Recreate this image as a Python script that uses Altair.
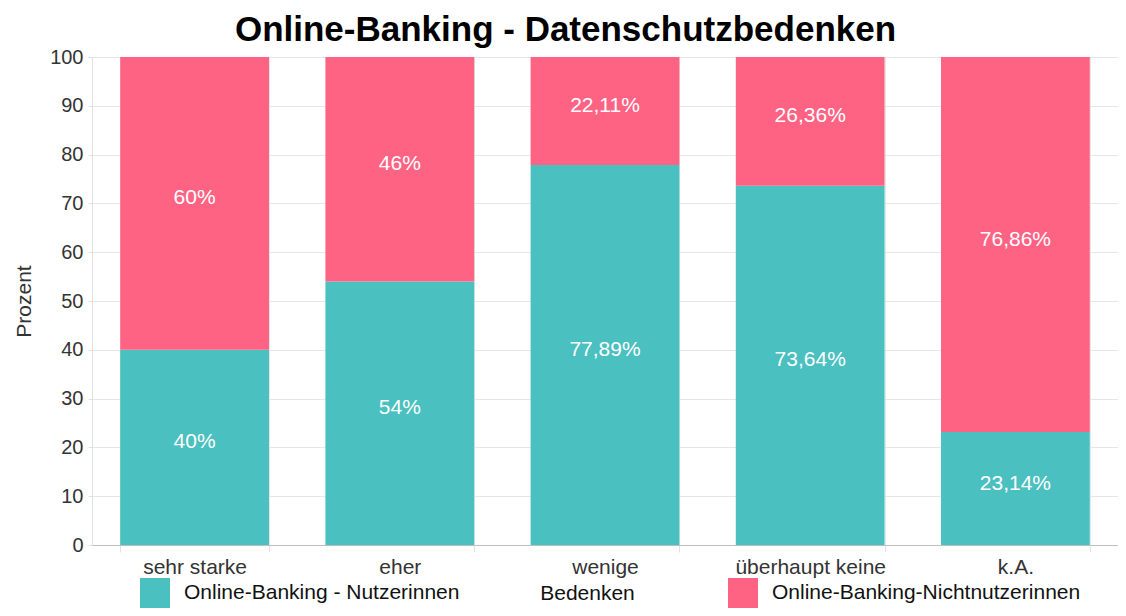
import altair as alt
import pandas as pd

categories = ["sehr starke", "eher", "wenige", "überhaupt keine", "k.A."]
series = ["Online-Banking - Nutzerinnen", "Online-Banking-Nichtnutzerinnen"]
nutzer = [40, 54, 77.89, 73.64, 23.14]
nichtnutzer = [60, 46, 22.11, 26.36, 76.86]
colors = ["#4BC0C0", "#FF6384"]
y_ticks = [0, 10, 20, 30, 40, 50, 60, 70, 80, 90, 100]


def fmt(v):
    return f"{v:g}".replace(".", ",") + "%"


rows = []
for i, c in enumerate(categories):
    rows.append({"cat": c, "series": series[0], "value": nutzer[i], "ord": 0, "label": fmt(nutzer[i])})
    rows.append({"cat": c, "series": series[1], "value": nichtnutzer[i], "ord": 1, "label": fmt(nichtnutzer[i])})
df = pd.DataFrame(rows)

FONT = "Liberation Sans"
PLOT_H = 488

x_enc = alt.X(
    "cat:N",
    sort=categories,
    scale=alt.Scale(paddingInner=0.275, paddingOuter=0.1375),
    axis=alt.Axis(
        title="Bedenken",
        labelAngle=0,
        tickBand="extent",
        labelFontSize=21,
        labelColor="#333333",
        labelFont=FONT,
        labelPadding=4,
        tickSize=7,
        tickColor="#e2e2e2",
        grid=True,
        gridColor="#e6e6e6",
        domainColor="#bfbfbf",
        titleFont=FONT,
        titleFontSize=21,
        titleFontWeight="normal",
        titleColor="#111111",
        titleX=495,
        titleY=37,
        titleAlign="center",
        titleBaseline="top",
    ),
)

y_enc = alt.Y(
    "value:Q",
    stack="zero",
    scale=alt.Scale(domain=[0, 100], nice=False),
    axis=alt.Axis(
        title="Prozent",
        values=y_ticks,
        labelFontSize=20,
        labelColor="#333333",
        labelFont=FONT,
        tickSize=4,
        labelPadding=5,
        tickColor="#e2e2e2",
        gridColor="#e6e6e6",
        domainColor="#e0e0e0",
        titleFont=FONT,
        titleFontSize=21,
        titleFontWeight="normal",
        titleColor="#333333",
        titleAngle=270,
        titleX=-68,
        titleY=PLOT_H / 2,
        titleAlign="center",
        titleBaseline="middle",
    ),
)

bars = alt.Chart(df).mark_bar().encode(
    x=x_enc,
    y=y_enc,
    color=alt.Color(
        "series:N",
        scale=alt.Scale(domain=series, range=colors),
        legend=alt.Legend(
            title=None,
            orient="none",
            legendX=48,
            legendY=PLOT_H + 33,
            direction="horizontal",
            columns=2,
            columnPadding=268,
            symbolType="square",
            symbolSize=900,
            symbolStrokeWidth=0,
            symbolOpacity=1,
            labelFont=FONT,
            labelFontSize=21,
            labelColor="#111111",
            labelOffset=14,
            labelLimit=600,
            padding=0,
        ),
    ),
    order=alt.Order("ord:Q"),
)

labels = (
    alt.Chart(df)
    .transform_stack(
        stack="value",
        groupby=["cat"],
        as_=["v0", "v1"],
        sort=[alt.SortField("ord", order="ascending")],
    )
    .transform_calculate(mid="(datum.v0 + datum.v1) / 2")
    .mark_text(color="white", fontSize=21, font=FONT, dy=-5)
    .encode(
        x=alt.X("cat:N", sort=categories),
        y=alt.Y("mid:Q"),
        text="label:N",
    )
)

chart = (
    alt.layer(bars, labels)
    .properties(
        width=1026,
        height=PLOT_H,
        autosize=alt.AutoSizeParams(type="none"),
        padding={"left": 84, "top": 49, "right": 0, "bottom": 600 - 49 - PLOT_H},
        title=alt.TitleParams(
            text="Online-Banking - Datenschutzbedenken",
            font=FONT,
            fontSize=35,
            fontWeight="bold",
            color="#000000",
            anchor="middle",
            frame="bounds",
            offset=4,
            dy=5,
        ),
    )
    .configure_view(stroke=None)
)

chart.save("out.html", embed_options={"renderer": "svg", "actions": False})
